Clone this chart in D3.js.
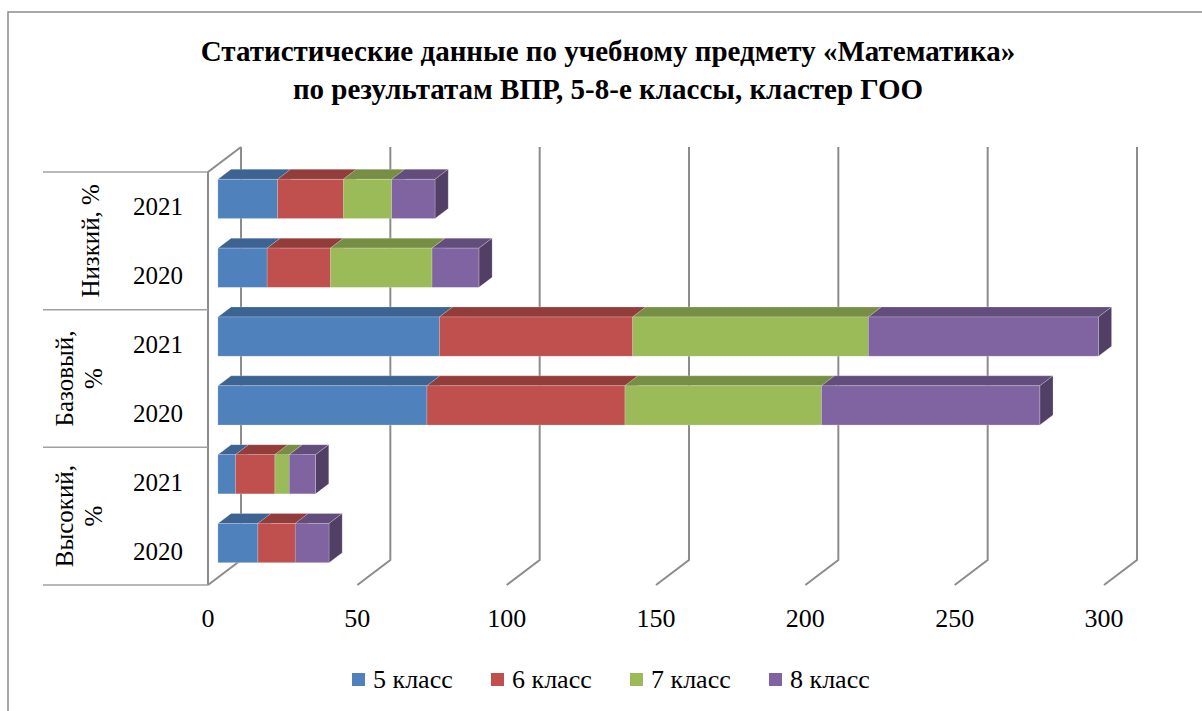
<!DOCTYPE html>
<html>
<head>
<meta charset="utf-8">
<script src="https://cdn.jsdelivr.net/npm/d3@7"></script>
<style>
  .tnr, .tnr tspan { font-family: "Liberation Serif", "Times New Roman", Tinos, serif !important; }
</style>
</head>
<body style="margin:0; background:#fff">
<script>
// data (values per class, stacked)
var groups = ["Низкий, %", "Базовый, %", "Высокий, %"];
var series = ["5 класс", "6 класс", "7 класс", "8 класс"];
var colors = ["#4F81BD", "#C0504D", "#9BBB59", "#8064A2"];
// rows top to bottom
var rowYear = ["2021", "2020", "2021", "2020", "2021", "2020"];
var class5 = [20, 16.5, 74.2, 70, 5.9, 13.4];
var class6 = [22, 21.2, 64.7, 66.3, 13.2, 12.5];
var class7 = [16.2, 34, 78.9, 65.8, 4.8, 0];
var class8 = [14.5, 15.7, 77, 73.1, 8.8, 11.3];
var ticks = [0, 50, 100, 150, 200, 250, 300];

var FONT = "'Liberation Serif', monospace";
var W = 1202, H = 711;
var svg = d3.select("body").append("svg")
    .attr("width", W).attr("height", H);

// outer frame
svg.append("rect")
    .attr("x", 8).attr("y", 12).attr("width", W).attr("height", H)
    .attr("fill", "none").attr("stroke", "#8c8c8c").attr("stroke-width", 1.5);

// title
svg.append("text").attr("class", "tnr")
    .attr("x", 608).attr("y", 61).attr("text-anchor", "middle")
    .attr("font-family", FONT).attr("font-weight", "bold").attr("font-size", 29)
    .text("Статистические данные по учебному предмету «Математика»");
svg.append("text").attr("class", "tnr")
    .attr("x", 608).attr("y", 99).attr("text-anchor", "middle")
    .attr("font-family", FONT).attr("font-weight", "bold").attr("font-size", 29)
    .text("по результатам ВПР, 5-8-е классы, кластер ГОО");

// 3d frame: front plane + depth offset
var DX = 33, DY = -25;
var x = d3.scaleLinear().domain([0, 300]).range([208, 1104]);
var rows = d3.range(rowYear.length);
var y = d3.scaleBand().domain(rows).range([172, 585])
    .paddingInner(0.43).paddingOuter(0.215);
var yTop = 172, yBot = 585;

var grid = svg.append("g").attr("stroke", "#8c8c8c").attr("stroke-width", 2).attr("fill", "none");
// side wall
grid.append("path")
    .attr("d", "M" + x(0) + "," + yBot + "V" + yTop + "L" + (x(0) + DX) + "," + (yTop + DY));
grid.selectAll(".vg").data(ticks).enter().append("path")
    .attr("class", "vg")
    .attr("d", d => "M" + (x(d) + DX) + "," + (yTop + DY) + "V" + (yBot + DY) + "L" + x(d) + "," + yBot);

// bars
var stackData = rows.map(i => ({row: i, vals: [class5[i], class6[i], class7[i], class8[i]]}));
var z0 = 0.3, z1 = 0.7;
var bars = svg.append("g");
stackData.forEach(function(r) {
  var acc = 0;
  var yf = y(r.row) + DY * z0;
  var h = y.bandwidth();
  var ox = DX * z0, dx = DX * (z1 - z0), dy = DY * (z1 - z0);
  r.vals.forEach(function(v, s) {
    if (v <= 0) return;
    var xa = x(acc) + ox, xb = x(acc + v) + ox;
    acc += v;
    var c = d3.color(colors[s]);
    var g = bars.append("g").attr("stroke", "rgba(255,255,255,0.35)").attr("stroke-width", 0.6);
    g.append("path").attr("fill", c.darker(0.75))
      .attr("d", `M${xa},${yf}L${xa + dx},${yf + dy}L${xb + dx},${yf + dy}L${xb},${yf}Z`);
    g.append("path").attr("fill", c.darker(1.3))
      .attr("d", `M${xb},${yf}L${xb + dx},${yf + dy}L${xb + dx},${yf + h + dy}L${xb},${yf + h}Z`);
    g.append("rect").attr("fill", colors[s])
      .attr("x", xa).attr("y", yf).attr("width", xb - xa).attr("height", h);
  });
});

// category table on the left
var groupStep = (yBot - yTop) / groups.length;
var tbl = svg.append("g").attr("stroke", "#a0a0a0").attr("stroke-width", 1.5);
tbl.selectAll("line").data(d3.range(groups.length + 1)).enter().append("line")
    .attr("x1", 43).attr("x2", x(0))
    .attr("y1", d => yTop + d * groupStep).attr("y2", d => yTop + d * groupStep);

svg.selectAll(".year").data(rows).enter().append("text")
    .attr("class", "year tnr")
    .attr("x", 158).attr("y", d => y(d) + y.bandwidth() / 2 + 9)
    .attr("text-anchor", "middle").attr("font-size", 25)
    .attr("font-family", FONT)
    .text(d => rowYear[d]);

var groupLines = [["Низкий, %"], ["Базовый,", "%"], ["Высокий,", "%"]];
groups.forEach(function(gname, gi) {
  var cy = yTop + (gi + 0.5) * groupStep;
  var lines = groupLines[gi];
  var xs = lines.length === 1 ? [90] : [64, 93];
  lines.forEach(function(t, li) {
    svg.append("text").attr("class", "tnr")
      .attr("transform", `translate(${xs[li]},${cy}) rotate(-90)`)
      .attr("text-anchor", "middle").attr("dy", "0.35em")
      .attr("font-size", 25)
      .attr("font-family", FONT)
      .text(t);
  });
});

// value axis labels
svg.selectAll(".tick").data(ticks).enter().append("text")
    .attr("class", "tick tnr")
    .attr("x", d => x(d)).attr("y", 627)
    .attr("text-anchor", "middle").attr("font-size", 26)
    .attr("font-family", FONT)
    .text(d => d);

// legend
var legendX = [352, 491, 630, 769];
var legend = svg.selectAll(".leg").data(series).enter().append("g")
    .attr("class", "leg")
    .attr("transform", (d, i) => `translate(${legendX[i]},673)`);
legend.append("rect").attr("width", 13).attr("height", 13)
    .attr("fill", (d, i) => colors[i]);
legend.append("text").attr("class", "tnr").attr("x", 21).attr("y", 15)
    .attr("font-size", 26)
    .attr("font-family", FONT)
    .text(d => d);
</script>
</body>
</html>
